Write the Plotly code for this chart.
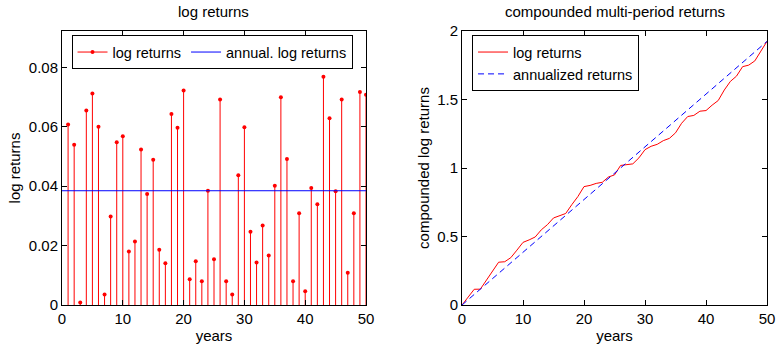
import plotly.graph_objects as go
import numpy as np

years = list(range(1, 51))
log_returns = [
    0.0608, 0.0540, 0.0008, 0.0655, 0.0712, 0.0600, 0.0035, 0.0298, 0.0548, 0.0568,
    0.0180, 0.0214, 0.0524, 0.0374, 0.0489, 0.0186, 0.0141, 0.0643, 0.0597, 0.0722,
    0.0087, 0.0147, 0.0080, 0.0385, 0.0154, 0.0692, 0.0080, 0.0035, 0.0437, 0.0599,
    0.0247, 0.0143, 0.0268, 0.0167, 0.0402, 0.0700, 0.0492, 0.0080, 0.0309, 0.0046,
    0.0394, 0.0339, 0.0769, 0.0629, 0.0383, 0.0692, 0.0109, 0.0309, 0.0717, 0.0708,
]
left_xticks = [0, 10, 20, 30, 40, 50]
left_yticks = [0, 0.02, 0.04, 0.06, 0.08]
left_yticklabels = ["0", "0.02", "0.04", "0.06", "0.08"]
right_yticks = [0, 0.5, 1, 1.5, 2]
right_yticklabels = ["0", "0.5", "1", "1.5", "2"]

mean_ret = float(np.mean(log_returns))
cum_x = [0] + years
cum_y = [0] + list(np.cumsum(log_returns))
ann_y = [mean_ret * t for t in cum_x]

# stems
sx, sy = [], []
for x, v in zip(years, log_returns):
    sx += [x, x, None]
    sy += [0, v, None]

FONT = "Liberation Sans, Arial, sans-serif"
FS = 15
fig = go.Figure()
fig.add_trace(go.Scatter(x=sx, y=sy, mode="lines", line=dict(color="#ff0000", width=1),
                         showlegend=False, xaxis="x", yaxis="y", hoverinfo="skip"))
fig.add_trace(go.Scatter(x=years, y=log_returns, mode="markers",
                         marker=dict(color="#ff0000", size=4), showlegend=False,
                         xaxis="x", yaxis="y"))
fig.add_trace(go.Scatter(x=[None], y=[None], mode="lines+markers", name="log returns",
                         line=dict(color="#ff0000", width=1), marker=dict(color="#ff0000", size=4),
                         xaxis="x", yaxis="y", legend="legend"))
fig.add_trace(go.Scatter(x=[0, 50], y=[mean_ret, mean_ret], mode="lines",
                         name="annual. log returns", line=dict(color="#0000ff", width=1),
                         xaxis="x", yaxis="y", legend="legend"))

fig.add_trace(go.Scatter(x=cum_x, y=cum_y, mode="lines", name="log returns",
                         line=dict(color="#ff0000", width=1), xaxis="x2", yaxis="y2",
                         legend="legend2"))
fig.add_trace(go.Scatter(x=cum_x, y=ann_y, mode="lines", name="annualized returns",
                         line=dict(color="#0000ff", width=1, dash="6px,4px"), xaxis="x2", yaxis="y2",
                         legend="legend2"))

axis_common = dict(showgrid=False, zeroline=False, showline=True, linecolor="black",
                   linewidth=1, mirror="ticks", ticks="inside", ticklen=5, tickcolor="black",
                   automargin=False,
                   tickfont=dict(size=FS, color="black", family=FONT))
tfont = dict(size=FS, color="black", family=FONT)
lfont = dict(size=14.5, color="black", family=FONT)

fig.update_layout(
    width=777, height=344,
    margin=dict(l=62, r=10, t=31, b=39),
    paper_bgcolor="white", plot_bgcolor="white",
    font=dict(family=FONT, color="black", size=FS),
    xaxis=dict(domain=[0, 0.4312], range=[0, 50], tickvals=left_xticks,
               title=dict(text="years", standoff=6, font=tfont), anchor="y", **axis_common),
    yaxis=dict(domain=[0, 1], range=[0, max(log_returns) * 1.2], tickvals=left_yticks,
               ticktext=left_yticklabels, title=dict(text="log returns", standoff=4, font=tfont),
               anchor="x", **axis_common),
    xaxis2=dict(domain=[0.5674, 1], range=[0, 50], tickvals=left_xticks,
                title=dict(text="years", standoff=6, font=tfont), anchor="y2", **axis_common),
    yaxis2=dict(domain=[0, 1], range=[0, 2], tickvals=right_yticks,
                ticktext=right_yticklabels,
                title=dict(text="compounded log returns", standoff=3, font=tfont),
                anchor="x2", **axis_common),
    legend=dict(orientation="h", x=0.0135, y=0.985, xanchor="left", yanchor="top",
                bordercolor="black", borderwidth=1, bgcolor="white",
                font=lfont, tracegroupgap=0, itemwidth=30),
    legend2=dict(orientation="v", x=0.5816, y=0.985, xanchor="left", yanchor="top",
                 bordercolor="black", borderwidth=1, bgcolor="white",
                 font=lfont, tracegroupgap=0, itemwidth=30),
    annotations=[
        dict(text="log returns", x=0.2156, y=1, xref="paper", yref="paper",
             xanchor="center", yanchor="bottom", yshift=9, showarrow=False, font=tfont),
        dict(text="compounded multi-period returns", x=0.7837, y=1, xref="paper", yref="paper",
             xanchor="center", yanchor="bottom", yshift=9, showarrow=False, font=tfont),
    ],
)

fig.write_html("out.html")
